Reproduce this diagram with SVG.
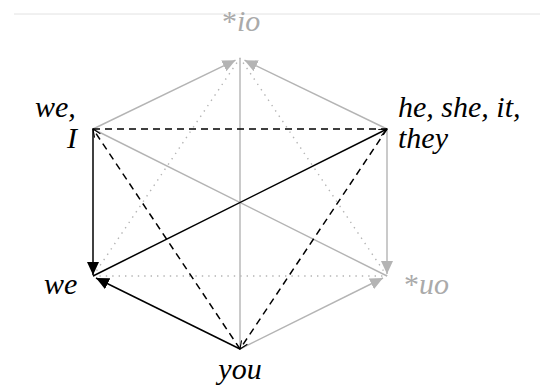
<svg xmlns="http://www.w3.org/2000/svg" width="540" height="390" viewBox="0 0 540 390">
<defs>
<style>
.gs{stroke:#b4b4b4;stroke-width:1.4;fill:none}
.gd{stroke:#b4b4b4;stroke-width:1.4;fill:none;stroke-dasharray:1.4 5}
.bs{stroke:#000;stroke-width:1.5;fill:none}
.bd{stroke:#000;stroke-width:1.5;fill:none;stroke-dasharray:7 5}
</style>
<marker id="ag" markerUnits="userSpaceOnUse" markerWidth="14" markerHeight="12" viewBox="0 0 14 12" refX="13" refY="6" orient="auto"><path d="M0,0 L13,6 L0,12 Z" fill="#b4b4b4"/></marker>
<marker id="ab" markerUnits="userSpaceOnUse" markerWidth="14" markerHeight="12" viewBox="0 0 14 12" refX="13" refY="6" orient="auto"><path d="M0,0 L13,6 L0,12 Z" fill="#000"/></marker>
<marker id="ao" markerUnits="userSpaceOnUse" markerWidth="10" markerHeight="8" viewBox="0 0 10 8" refX="9" refY="4" orient="auto"><path d="M1,0.5 L9,4 L1,7.5" fill="none" stroke="#000" stroke-width="1.1"/></marker>
</defs>
<line x1="14" y1="14" x2="540" y2="14" stroke="#e2e2e2" stroke-width="1"/>
<g id="connectors">
<line class="gs" x1="240" y1="349" x2="240" y2="58"/>
<line class="gs" x1="93" y1="129" x2="235.5" y2="60.2" marker-end="url(#ag)"/>
<line class="gs" x1="387" y1="129" x2="244.5" y2="60.2" marker-end="url(#ag)"/>
<line class="gs" x1="93" y1="129" x2="387" y2="276"/>
<line class="gs" x1="387" y1="129" x2="387" y2="274" marker-end="url(#ag)"/>
<line class="gs" x1="240" y1="349" x2="383" y2="278" marker-end="url(#ag)"/>
<line class="gd" x1="93" y1="276" x2="240" y2="58"/>
<line class="gd" x1="387" y1="276" x2="240" y2="58"/>
<line class="gd" x1="93" y1="276" x2="387" y2="276"/>
<line class="bd" x1="93" y1="129" x2="387" y2="129"/>
<line class="bd" x1="240" y1="349" x2="93" y2="129" marker-end="url(#ao)"/>
<line class="bd" x1="387" y1="129" x2="240" y2="349" marker-end="url(#ao)"/>
<line class="bs" x1="93" y1="129" x2="93" y2="275" marker-end="url(#ab)"/>
<line class="bs" x1="240" y1="349" x2="96" y2="278" marker-end="url(#ab)"/>
<line class="bs" x1="93" y1="276" x2="387" y2="129" marker-end="url(#ao)"/>
</g>
<g font-family="Liberation Serif, serif" font-style="italic" font-size="30" fill="#000">
<g id="n-io"><text x="222" y="31" fill="#aaaaaa"><tspan font-style="normal">*</tspan>io</text></g>
<g id="n-weI"><text x="35" y="117">we,</text><text x="67" y="148">I</text></g>
<g id="n-he"><text x="398" y="117">he, she, it,</text><text x="398" y="148">they</text></g>
<g id="n-we"><text x="44" y="294">we</text></g>
<g id="n-uo"><text x="404" y="294" fill="#aaaaaa"><tspan font-style="normal">*</tspan>uo</text></g>
<g id="n-you"><text x="240" y="379" text-anchor="middle">you</text></g>
</g>
</svg>
